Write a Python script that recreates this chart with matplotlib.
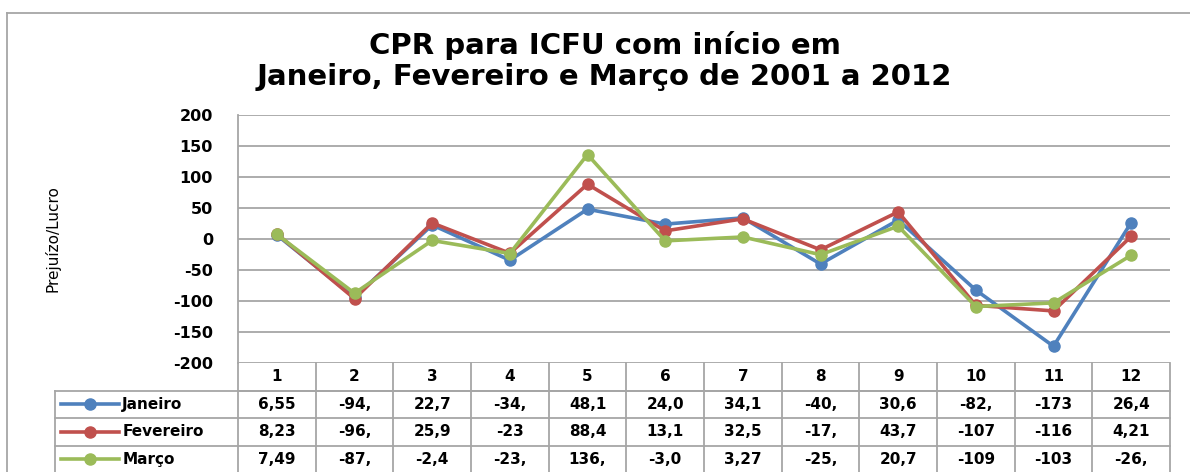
import matplotlib
matplotlib.use('Agg')
import matplotlib.pyplot as plt
from matplotlib.lines import Line2D
from matplotlib.transforms import blended_transform_factory

plt.rcParams['axes.unicode_minus'] = False

# dados
meses = [1, 2, 3, 4, 5, 6, 7, 8, 9, 10, 11, 12]
janeiro = [6.55, -94.3, 22.7, -34.2, 48.1, 24.0, 34.1, -40.3, 30.6, -82.4, -173, 26.4]
fevereiro = [8.23, -96.2, 25.9, -23, 88.4, 13.1, 32.5, -17.4, 43.7, -107, -116, 4.21]
marco = [7.49, -87.5, -2.4, -23.4, 136.2, -3.0, 3.27, -25.3, 20.7, -109, -103, -26.2]

# textos da tabela de dados (como aparecem, truncados)
rotulos_jan = ['6,55', '-94,', '22,7', '-34,', '48,1', '24,0', '34,1', '-40,', '30,6', '-82,', '-173', '26,4']
rotulos_fev = ['8,23', '-96,', '25,9', '-23', '88,4', '13,1', '32,5', '-17,', '43,7', '-107', '-116', '4,21']
rotulos_mar = ['7,49', '-87,', '-2,4', '-23,', '136,', '-3,0', '3,27', '-25,', '20,7', '-109', '-103', '-26,']

series = [
    ('Janeiro', janeiro, rotulos_jan, '#4F81BD'),
    ('Fevereiro', fevereiro, rotulos_fev, '#C0504D'),
    ('Março', marco, rotulos_mar, '#9BBB59'),
]

cinza = '#a6a6a6'

fig = plt.figure(figsize=(11.9, 4.72), dpi=100)
ax = fig.add_axes([238 / 1190, 1 - 363 / 472, (1170 - 238) / 1190, 248 / 472])

# linhas
for nome, valores, _, cor in series:
    ax.plot(meses, valores, color=cor, lw=2.6, marker='o', ms=8, clip_on=False)

ax.set_xlim(0.5, 12.5)
ax.set_ylim(-200, 200)
ax.set_yticks(range(-200, 201, 50))
ax.set_xticks([])
ax.yaxis.grid(True, color=cinza, lw=1.3)
ax.set_axisbelow(True)
for lado in ['top', 'right', 'bottom']:
    ax.spines[lado].set_visible(False)
ax.spines['left'].set_color(cinza)
ax.spines['left'].set_linewidth(1.3)
ax.tick_params(axis='y', length=0, pad=18, labelsize=11.5)
for rot in ax.get_yticklabels():
    rot.set_fontweight('bold')

ax.set_ylabel('Prejuízo/Lucro', fontsize=11, family=['Liberation Sans Narrow', 'DejaVu Sans'])
ax.yaxis.set_label_coords(-0.19, 0.5)

# título
fig.text(0.508, 1 - 61 / 472, 'CPR para ICFU com início em\nJaneiro, Fevereiro e Março de 2001 a 2012',
         ha='center', va='center', fontsize=21, fontweight='bold', linespacing=1.1)

# tabela de dados abaixo do gráfico
tr = blended_transform_factory(ax.transData, ax.transAxes)
rh = 27.5 / 248
x_leg = -1.856
y_fim = -4.2 * rh

def linha(xs, ys):
    ax.add_line(Line2D(xs, ys, transform=tr, color=cinza, lw=1.3, clip_on=False))

for k in range(13):
    linha([0.5 + k, 0.5 + k], [0, y_fim])
linha([x_leg, x_leg], [-rh, y_fim])
linha([0.5, 12.5], [-rh, -rh])
linha([x_leg, 12.5], [-rh, -rh])
linha([x_leg, 12.5], [-2 * rh, -2 * rh])
linha([x_leg, 12.5], [-3 * rh, -3 * rh])

for m in meses:
    ax.text(m, -0.5 * rh, str(m), transform=tr, ha='center', va='center',
            fontsize=11, fontweight='bold', clip_on=False)

for i, (nome, valores, rotulos, cor) in enumerate(series):
    yc = -(i + 1.5) * rh
    ax.add_line(Line2D([-1.779, -1.032], [yc, yc], transform=tr, color=cor, lw=2.6, clip_on=False))
    ax.add_line(Line2D([-1.405], [yc], transform=tr, color=cor, marker='o', ms=8, clip_on=False))
    ax.text(-0.99, yc, nome, transform=tr, ha='left', va='center',
            fontsize=11, fontweight='bold', clip_on=False)
    for m, r in zip(meses, rotulos):
        ax.text(m, yc, r, transform=tr, ha='center', va='center',
                fontsize=11, fontweight='bold', clip_on=False)

# borda da área do gráfico
fig.add_artist(Line2D([7 / 1190, 7 / 1190], [0, 1 - 13 / 472], transform=fig.transFigure, color=cinza, lw=1.3))
fig.add_artist(Line2D([7 / 1190, 1], [1 - 13 / 472, 1 - 13 / 472], transform=fig.transFigure, color=cinza, lw=1.3))

fig.savefig('out.png', dpi=100)
